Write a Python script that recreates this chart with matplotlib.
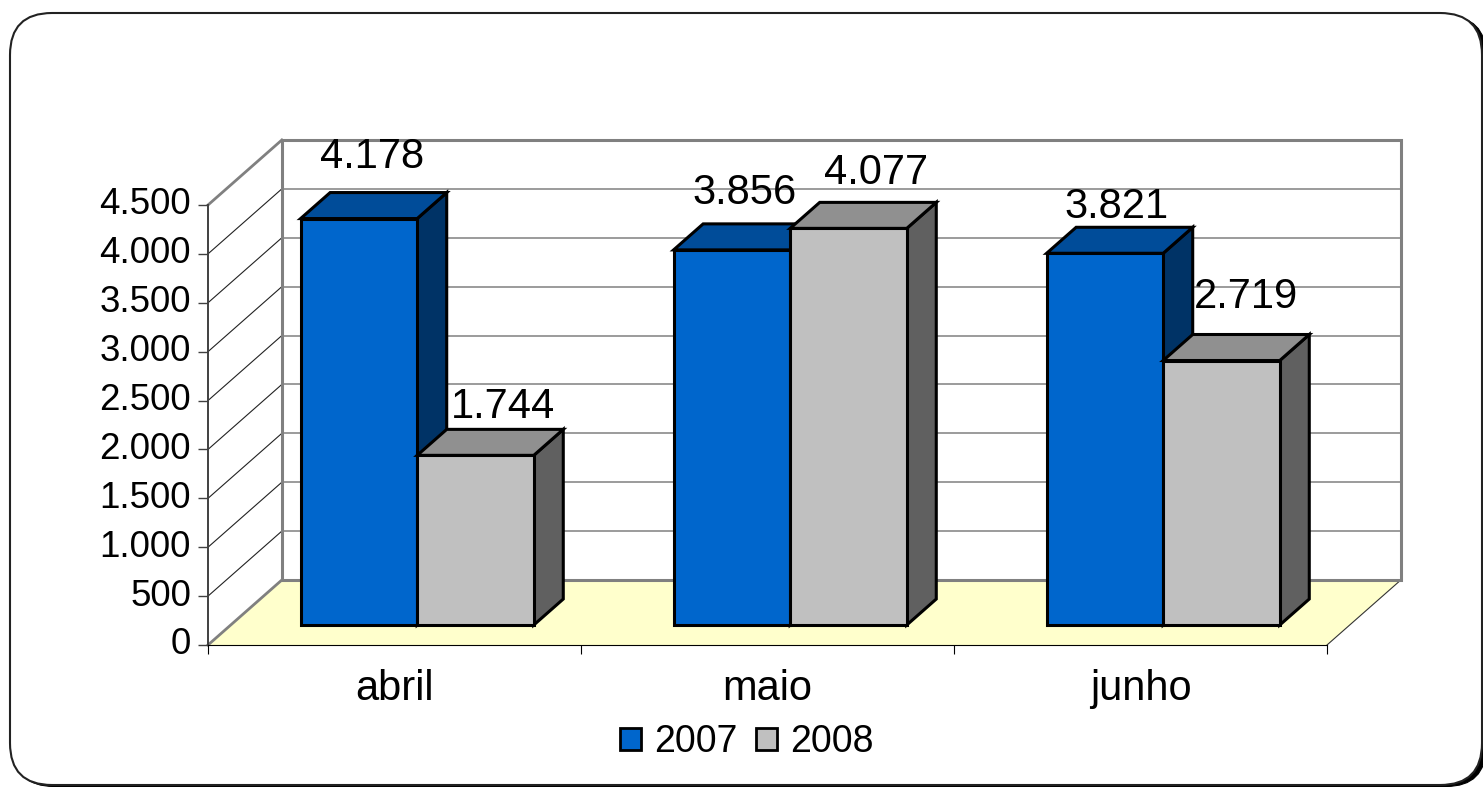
import matplotlib
matplotlib.use("Agg")
from matplotlib import pyplot as plt
from matplotlib.patches import FancyBboxPatch, Patch, Polygon

plt.rcParams["font.family"] = ["Liberation Sans", "DejaVu Sans"]

months = ["abril", "maio", "junho"]
values_2007 = [4178, 3856, 3821]
values_2008 = [1744, 4077, 2719]
value_labels_2007 = ["4.178", "3.856", "3.821"]
value_labels_2008 = ["1.744", "4.077", "2.719"]
y_ticks = [0, 500, 1000, 1500, 2000, 2500, 3000, 3500, 4000, 4500]
y_tick_labels = ["0", "500", "1.000", "1.500", "2.000", "2.500", "3.000", "3.500", "4.000", "4.500"]

# Label offsets from the centre of each bar's front top edge, in pixels
label_offset_2007 = [(13, 62), (13, 57), (12, 46)]
label_offset_2008 = [(28, 48), (28, 55), (25, 64)]

WIDTH, HEIGHT = 1483, 787
FONT_TICK = 26.5
FONT_CAT = 30
FONT_VALUE = 30
FONT_LEGEND = 27
BAR_W = 0.3125  # Bar width in category units
BAR_SCALE = 0.995  # Bars sit further back, so they come out slightly shorter than the axis
DEPTH_X = 0.198  # Depth of the chart box in category units
DEPTH_Y = 665  # Depth of the chart box in value units
BAR_START = 0.307  # Where the bars start, as a fraction of the depth
BAR_DEPTH = 0.40  # Bar thickness, as a fraction of the depth
GREY = "#808080"

fig = plt.figure(figsize=(WIDTH / 100, HEIGHT / 100), dpi=100)

# Rounded frame with its shadow, in pixel coordinates
bg = fig.add_axes([0, 0, 1, 1])
bg.set_xlim(0, WIDTH)
bg.set_ylim(HEIGHT, 0)
bg.axis("off")
bg.add_patch(FancyBboxPatch((14, 16), 1472, 770.5, boxstyle="round,pad=0,rounding_size=40",
                            fc="black", ec="black", lw=0.8))
bg.add_patch(FancyBboxPatch((10, 13), 1472, 772, boxstyle="round,pad=0,rounding_size=42",
                            fc="white", ec="#222222", lw=1.5))

ax = fig.add_axes([208 / WIDTH, (HEIGHT - 645) / HEIGHT, 1119 / WIDTH, 440 / HEIGHT])
ax.patch.set_visible(False)
ax.set_xlim(0, len(months))
ax.set_ylim(y_ticks[0], y_ticks[-1])
for side in ["top", "right"]:
    ax.spines[side].set_visible(False)
ax.spines["left"].set_color("#404040")
ax.spines["left"].set_linewidth(1.4)
ax.spines["bottom"].set_color("black")
ax.spines["bottom"].set_linewidth(0.8)

n = len(months)
top = y_ticks[-1]

# Floor
ax.add_patch(Polygon([(0, 0), (n, 0), (n + DEPTH_X, DEPTH_Y), (DEPTH_X, DEPTH_Y)],
                     fc="#FFFFCC", ec="none", clip_on=False, zorder=1))
ax.plot([n, n + DEPTH_X], [0, DEPTH_Y], color="#333333", lw=0.8, clip_on=False, zorder=1.2)

# Walls and gridlines
for t in y_ticks[1:-1]:
    ax.plot([DEPTH_X, n + DEPTH_X], [t + DEPTH_Y, t + DEPTH_Y], color=GREY, lw=1.1,
            clip_on=False, zorder=1.1)
    ax.plot([0, DEPTH_X], [t, t + DEPTH_Y], color="#222222", lw=0.8, clip_on=False, zorder=1.1)
ax.plot([0, DEPTH_X], [0, DEPTH_Y], color=GREY, lw=2, clip_on=False, zorder=1.3)
ax.plot([0, DEPTH_X], [top, top + DEPTH_Y], color=GREY, lw=2, clip_on=False, zorder=1.3)
ax.add_patch(Polygon([(DEPTH_X, DEPTH_Y), (n + DEPTH_X, DEPTH_Y),
                      (n + DEPTH_X, top + DEPTH_Y), (DEPTH_X, top + DEPTH_Y)],
                     fc="none", ec=GREY, lw=2.2, clip_on=False, zorder=1.3))


def draw_bar(x, value, front, roof, side, z):
    x0 = x + BAR_START * DEPTH_X
    y0 = BAR_START * DEPTH_Y
    x1 = x0 + BAR_W
    y1 = y0 + value * BAR_SCALE
    dx = BAR_DEPTH * DEPTH_X
    dy = BAR_DEPTH * DEPTH_Y
    faces = [
        ([(x1, y0), (x1 + dx, y0 + dy), (x1 + dx, y1 + dy), (x1, y1)], side),
        ([(x0, y1), (x1, y1), (x1 + dx, y1 + dy), (x0 + dx, y1 + dy)], roof),
        ([(x0, y0), (x1, y0), (x1, y1), (x0, y1)], front),
    ]
    for points, colour in faces:
        ax.add_patch(Polygon(points, fc=colour, ec="black", lw=2.2, joinstyle="miter",
                             clip_on=False, zorder=z))
    return (x0 + x1) / 2, y1


for i in range(n):
    centre = i + 0.5
    x_a, y_a = draw_bar(centre - BAR_W, values_2007[i], "#0066CC", "#004C99", "#003366", 3 + i)
    x_b, y_b = draw_bar(centre, values_2008[i], "#C0C0C0", "#909090", "#606060", 3.5 + i)
    ax.annotate(value_labels_2007[i], (x_a, y_a), xytext=label_offset_2007[i],
                textcoords="offset pixels", ha="center", va="center", fontsize=FONT_VALUE,
                annotation_clip=False, zorder=8)
    ax.annotate(value_labels_2008[i], (x_b, y_b), xytext=label_offset_2008[i],
                textcoords="offset pixels", ha="center", va="center", fontsize=FONT_VALUE,
                annotation_clip=False, zorder=8)

# Axis ticks
ax.set_yticks(y_ticks)
ax.set_yticklabels(y_tick_labels, fontsize=FONT_TICK, va="center")
ax.tick_params(axis="y", length=7.2, width=1, color="#404040", pad=5)
ax.set_xticks(range(n + 1))
ax.set_xticklabels([])
ax.tick_params(axis="x", which="major", length=6.5, width=0.8, color="black")
ax.set_xticks([i + 0.5 for i in range(n)], minor=True)
ax.set_xticklabels(months, minor=True, fontsize=FONT_CAT)
ax.tick_params(axis="x", which="minor", length=0, pad=17)

handles = [Patch(fc="#0066CC", ec="black", lw=2), Patch(fc="#C0C0C0", ec="black", lw=2)]
fig.legend(handles, ["2007", "2008"], ncol=2, frameon=False, fontsize=FONT_LEGEND,
           loc="center", bbox_to_anchor=(747 / WIDTH, (HEIGHT - 742) / HEIGHT),
           handlelength=0.56, handleheight=0.51, handletextpad=0.36, columnspacing=0.48,
           borderpad=0, borderaxespad=0)

fig.savefig("out.png", dpi=100)
